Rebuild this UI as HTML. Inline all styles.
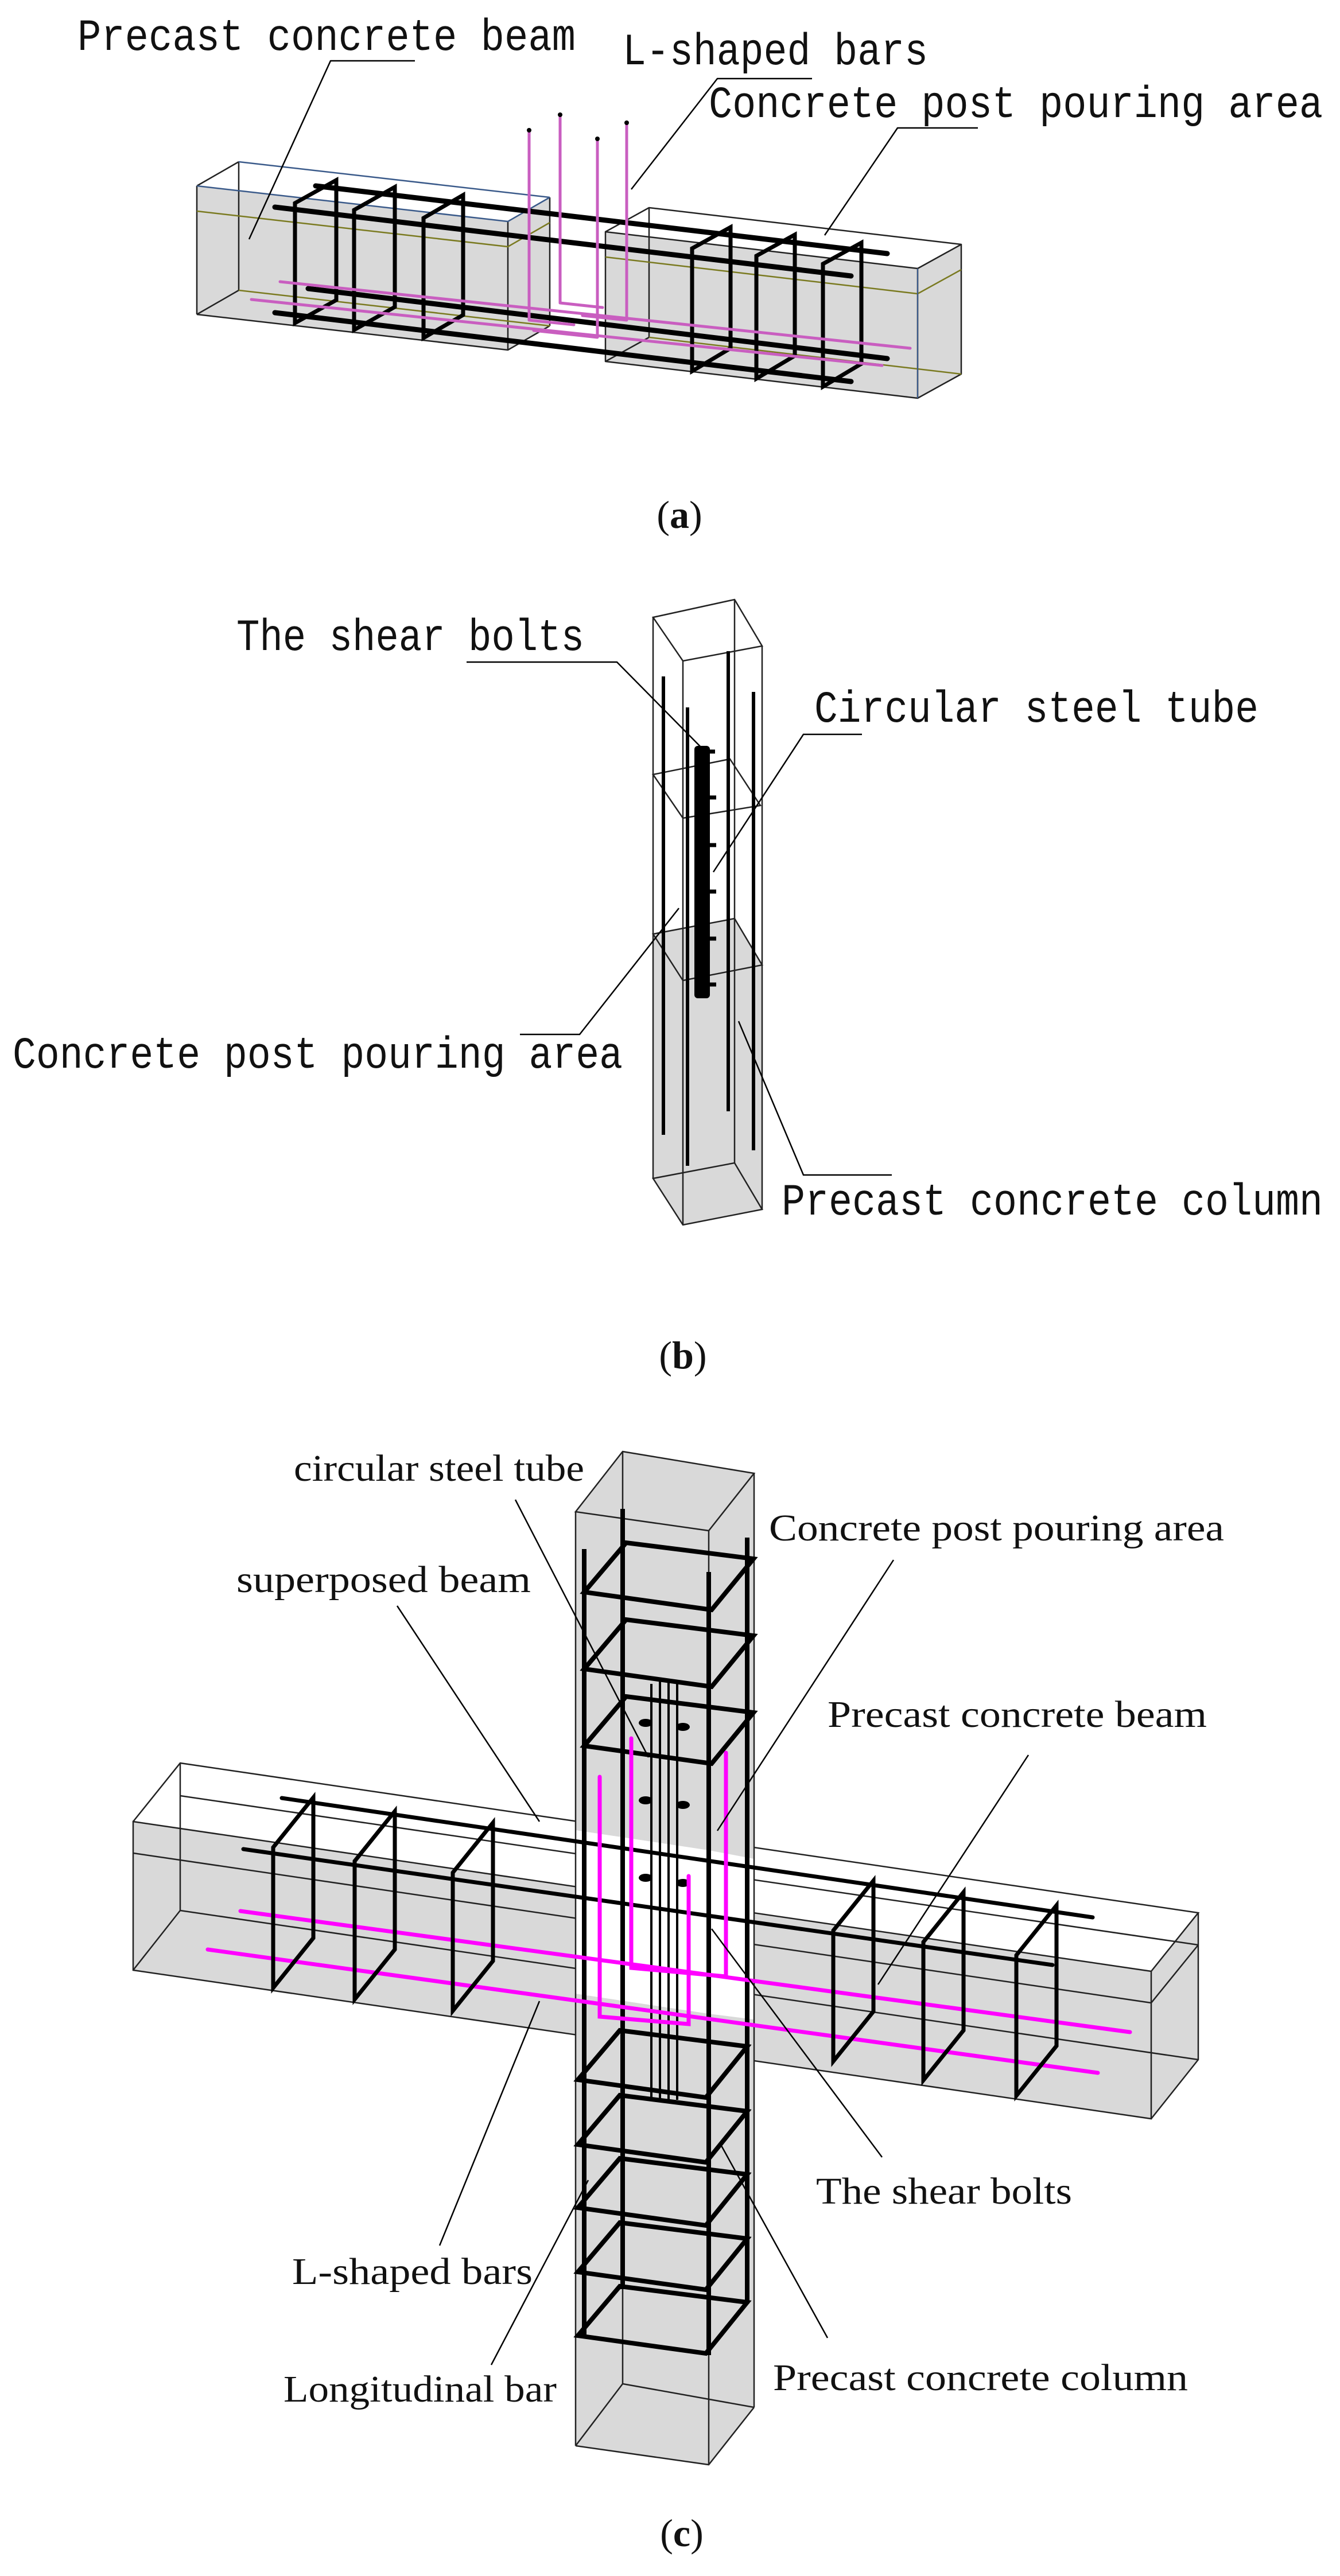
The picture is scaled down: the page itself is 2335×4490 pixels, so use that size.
<!DOCTYPE html>
<html><head><meta charset="utf-8"><style>
html,body{margin:0;padding:0;background:#fff}
svg{display:block}
.m{font-family:"Liberation Mono",monospace;fill:#111}
.s{font-family:"Liberation Serif",serif;fill:#111}
</style></head><body>
<svg width="2335" height="4490" viewBox="0 0 2335 4490" xmlns="http://www.w3.org/2000/svg">
<rect width="2335" height="4490" fill="#fff"/>

<!-- ============ PANEL A ============ -->
<g stroke-linejoin="round">
<polygon points="343,324 885,386 885,610 343,548" fill="#d9d9d9"/>
<polygon points="885,386 958,344 958,568 885,610" fill="#d9d9d9"/>
<polygon points="343,324 416,282 958,344 885,386" fill="#fff"/>
<g fill="none" stroke="#222" stroke-width="2.5">
<polyline points="343,548 885,610 958,568"/>
<line x1="343" y1="324" x2="343" y2="548"/>
<line x1="885" y1="386" x2="885" y2="610"/>
<line x1="958" y1="344" x2="958" y2="568"/>
<line x1="343" y1="548" x2="416" y2="506"/>
<line x1="416" y1="282" x2="416" y2="506"/>
<line x1="343" y1="324" x2="416" y2="282"/>
</g>
<polyline points="343,324 885,386 958,344" fill="none" stroke="#3a5a8a" stroke-width="2.5"/>
<line x1="416" y1="282" x2="958" y2="344" stroke="#3a5a8a" stroke-width="2.5"/>
<polyline points="343,368 885,430 958,388" fill="none" stroke="#7a7a20" stroke-width="2.5"/>
<line x1="416" y1="506" x2="958" y2="568" stroke="#7a7a20" stroke-width="2.5"/>
<polygon points="1055,404 1599,468 1599,694 1055,630" fill="#d9d9d9"/>
<polygon points="1599,468 1675,426 1675,652 1599,694" fill="#d9d9d9"/>
<polygon points="1055,404 1131,362 1675,426 1599,468" fill="#fff"/>
<g fill="none" stroke="#222" stroke-width="2.5">
<polygon points="1055,404 1599,468 1599,694 1055,630"/>
<polyline points="1055,404 1131,362 1675,426 1599,468"/>
<polyline points="1675,426 1675,652 1599,694"/>
<line x1="1131" y1="362" x2="1131" y2="588"/>
<line x1="1055" y1="630" x2="1131" y2="588"/>
</g>
<polyline points="1055,448 1599,512 1675,470" fill="none" stroke="#7a7a20" stroke-width="2.5"/>
<line x1="1131" y1="588" x2="1675" y2="652" stroke="#7a7a20" stroke-width="2.5"/>
<line x1="1599" y1="468" x2="1599" y2="694" stroke="#3a5a8a" stroke-width="2"/>
<g stroke="#000" stroke-width="9" stroke-linecap="round" fill="none">
<line x1="550" y1="324" x2="1546" y2="442"/>
<line x1="479" y1="361" x2="1483" y2="481"/>
<line x1="537" y1="503" x2="1546" y2="625"/>
<line x1="479" y1="545" x2="1483" y2="665"/>
</g>
<g stroke="#000" stroke-width="7" fill="none" stroke-linejoin="miter">
<polygon points="514,354 514,563 586,523 586,314"/>
<polygon points="617,366 617,575 688,535 688,326"/>
<polygon points="738,380 738,589 807,549 807,340"/>
<polygon points="1206,433 1206,647 1273,607 1273,396"/>
<polygon points="1318,446 1318,660 1385,620 1385,409"/>
<polygon points="1434,460 1434,674 1501,634 1501,423"/>
</g>
<g stroke="#c95ec0" stroke-width="5" fill="none" stroke-linecap="round">
<line x1="488" y1="491" x2="1586" y2="607"/>
<line x1="438" y1="522" x2="1537" y2="637"/>
<polyline points="922,227 922,558 1000,566"/>
<polyline points="976,200 976,528 1050,536"/>
<polyline points="1041,242 1041,588 930,576"/>
<polyline points="1092,214 1092,558 1015,550"/>
</g>
<g fill="#000"><circle cx="922" cy="227" r="4"/><circle cx="976" cy="200" r="4"/><circle cx="1041" cy="242" r="4"/><circle cx="1092" cy="214" r="4"/></g>
<g stroke="#000" stroke-width="2.5" fill="none">
<polyline points="723,106 576,106 434,417"/>
<polyline points="1415,137 1250,137 1100,330"/>
<polyline points="1704,223 1564,223 1437,410"/>
</g>
</g>
<text class="m" x="135" y="87" font-size="78" textLength="868" lengthAdjust="spacingAndGlyphs">Precast concrete beam</text>
<text class="m" x="1085" y="112" font-size="78" textLength="532" lengthAdjust="spacingAndGlyphs">L-shaped bars</text>
<text class="m" x="1235" y="204" font-size="78" textLength="1070" lengthAdjust="spacingAndGlyphs">Concrete post pouring area</text>
<text class="s" x="1184" y="920" font-size="68" text-anchor="middle">(<tspan font-weight="bold">a</tspan>)</text>

<!-- ============ PANEL B ============ -->
<polygon points="1138,1628 1280,1601 1328,1682 1328,2108 1190,2135 1138,2054" fill="#d9d9d9"/>
<g fill="none" stroke="#222" stroke-width="2.5">
<polygon points="1138,1076 1280,1045 1328,1126 1190,1152"/>
<polygon points="1138,2054 1280,2027 1328,2108 1190,2135"/>
<line x1="1138" y1="1076" x2="1138" y2="2054"/>
<line x1="1190" y1="1152" x2="1190" y2="2135"/>
<line x1="1280" y1="1045" x2="1280" y2="2027"/>
<line x1="1328" y1="1126" x2="1328" y2="2108"/>
<polygon points="1138,1350 1272,1323 1325,1404 1190,1426"/>
<polygon points="1138,1628 1280,1601 1328,1682 1190,1709"/>
</g>
<g stroke="#000" stroke-width="6">
<line x1="1156" y1="1179" x2="1156" y2="1978"/>
<line x1="1269" y1="1135" x2="1269" y2="1937"/>
<line x1="1313" y1="1206" x2="1313" y2="2005"/>
<line x1="1198" y1="1233" x2="1198" y2="2032"/>
</g>
<rect x="1210" y="1300" width="27" height="440" rx="6" fill="#000"/>
<g stroke="#000" stroke-width="7">
<line x1="1237" y1="1310" x2="1246" y2="1310"/><line x1="1237" y1="1390" x2="1248" y2="1390"/>
<line x1="1237" y1="1473" x2="1248" y2="1473"/><line x1="1237" y1="1554" x2="1248" y2="1554"/>
<line x1="1237" y1="1636" x2="1248" y2="1636"/><line x1="1237" y1="1716" x2="1248" y2="1716"/>
</g>
<g stroke="#000" stroke-width="2.5" fill="none">
<polyline points="813,1154 1075,1154 1228,1309"/>
<polyline points="1502,1280 1400,1280 1243,1520"/>
<polyline points="906,1803 1010,1803 1183,1583"/>
<polyline points="1554,2048 1400,2048 1287,1780"/>
</g>
<text class="m" x="412" y="1133" font-size="78" textLength="606" lengthAdjust="spacingAndGlyphs">The shear bolts</text>
<text class="m" x="1419" y="1258" font-size="78" textLength="774" lengthAdjust="spacingAndGlyphs">Circular steel tube</text>
<text class="m" x="22" y="1861" font-size="78" textLength="1063" lengthAdjust="spacingAndGlyphs">Concrete post pouring area</text>
<text class="m" x="1362" y="2117" font-size="78" textLength="943" lengthAdjust="spacingAndGlyphs">Precast concrete column</text>
<text class="s" x="1190" y="2385" font-size="68" text-anchor="middle">(<tspan font-weight="bold">b</tspan>)</text>

<!-- ============ PANEL C ============ -->
<polygon points="232,3175 2006,3436 2006,3693 232,3434" fill="#d9d9d9"/>
<polygon points="2006,3436 2088,3334 2088,3590 2006,3693" fill="#d9d9d9"/>
<polygon points="232,3175 314,3073 2088,3334 2006,3436" fill="#fff"/>
<g fill="none" stroke="#222" stroke-width="2.5">
<polygon points="232,3175 2006,3436 2006,3693 232,3434"/>
<polyline points="232,3175 314,3073 2088,3334 2006,3436"/>
<polyline points="2088,3334 2088,3590 2006,3693"/>
<line x1="314" y1="3073" x2="314" y2="3330"/>
<line x1="232" y1="3434" x2="314" y2="3330"/>
<line x1="314" y1="3330" x2="2088" y2="3590"/>
<polyline points="232,3230 2006,3491 2088,3390"/>
<line x1="314" y1="3130" x2="2088" y2="3390"/>
</g>
<polygon points="1003,2635 1085,2530 1314,2568 1314,4196 1235,4296 1003,4263" fill="#d9d9d9"/>
<polygon points="1003,3190 1235,3225 1235,3510 1003,3475" fill="#fff"/>
<polygon points="1235,3225 1314,3240 1314,3520 1235,3510" fill="#fff"/>
<g fill="none" stroke="#222" stroke-width="2.5">
<polygon points="1003,2635 1085,2530 1314,2568 1235,2668"/>
<polyline points="1003,4263 1235,4296 1314,4196"/>
<polyline points="1003,4263 1085,4155 1314,4196"/>
<line x1="1003" y1="2635" x2="1003" y2="4263"/>
<line x1="1235" y1="2668" x2="1235" y2="4296"/>
<line x1="1314" y1="2568" x2="1314" y2="4196"/>
<line x1="1085" y1="2530" x2="1085" y2="4155"/>
</g>
<g stroke="#000" stroke-width="8">
<line x1="1018" y1="2700" x2="1018" y2="4075"/>
<line x1="1085" y1="2630" x2="1085" y2="3990"/>
<line x1="1235" y1="2740" x2="1235" y2="4105"/>
<line x1="1302" y1="2680" x2="1302" y2="4015"/>
</g>
<g stroke="#000" stroke-width="4" fill="none">
<line x1="1135" y1="2935" x2="1135" y2="3660"/>
<line x1="1150" y1="2930" x2="1150" y2="3660"/>
<line x1="1165" y1="2930" x2="1165" y2="3660"/>
<line x1="1180" y1="2935" x2="1180" y2="3660"/>
</g>
<g fill="#000">
<ellipse cx="1125" cy="3003" rx="12" ry="7"/><ellipse cx="1190" cy="3010" rx="12" ry="7"/>
<ellipse cx="1125" cy="3138" rx="12" ry="7"/><ellipse cx="1190" cy="3146" rx="12" ry="7"/>
<ellipse cx="1125" cy="3273" rx="12" ry="7"/><ellipse cx="1190" cy="3282" rx="12" ry="7"/>
</g>
<g stroke="#000" stroke-width="8" fill="none" stroke-linejoin="miter">
<polygon points="1018,2775 1091,2689 1313,2717 1240,2806"/>
<polygon points="1018,2909 1091,2823 1313,2851 1240,2940"/>
<polygon points="1018,3043 1091,2957 1313,2985 1240,3074"/>
<polygon points="1007,3625 1080,3539 1302,3567 1230,3656"/>
<polygon points="1007,3738 1080,3652 1302,3680 1230,3769"/>
<polygon points="1007,3848 1080,3762 1302,3790 1230,3879"/>
<polygon points="1007,3960 1080,3874 1302,3902 1230,3991"/>
<polygon points="1007,4071 1080,3985 1302,4013 1230,4102"/>
</g>
<g stroke="#000" stroke-width="7" stroke-linecap="round">
<line x1="491" y1="3134" x2="1904" y2="3342"/>
<line x1="424" y1="3223" x2="1834" y2="3425"/>
</g>
<g stroke="#ff00ff" stroke-width="7" stroke-linecap="round" fill="none">
<line x1="419" y1="3331" x2="1969" y2="3542"/>
<line x1="362" y1="3398" x2="1913" y2="3613"/>
<polyline points="1045,3097 1045,3515 1200,3528 1200,3270"/>
<polyline points="1100,3030 1100,3430 1265,3445 1265,3055"/>
</g>
<g stroke="#000" stroke-width="7" fill="none" stroke-linejoin="miter">
<polygon points="476,3220 476,3465 546,3378 546,3133"/>
<polygon points="618,3244 618,3485 688,3398 688,3157"/>
<polygon points="789,3264 789,3505 859,3418 859,3177"/>
<polygon points="1452,3365 1452,3593 1522,3506 1522,3278"/>
<polygon points="1609,3385 1609,3626 1679,3539 1679,3298"/>
<polygon points="1771,3408 1771,3653 1841,3566 1841,3321"/>
</g>
<g stroke="#000" stroke-width="2.5" fill="none">
<line x1="898" y1="2614" x2="1130" y2="3063"/>
<line x1="1557" y1="2719" x2="1250" y2="3191"/>
<line x1="692" y1="2799" x2="940" y2="3175"/>
<line x1="1792" y1="3059" x2="1530" y2="3459"/>
<line x1="1537" y1="3760" x2="1240" y2="3362"/>
<line x1="766" y1="3914" x2="940" y2="3488"/>
<line x1="1442" y1="4075" x2="1257" y2="3740"/>
<line x1="856" y1="4122" x2="1025" y2="3800"/>
</g>
<g class="s" font-size="66">
<text x="512" y="2581" textLength="506" lengthAdjust="spacingAndGlyphs">circular steel tube</text>
<text x="1340" y="2685" textLength="793" lengthAdjust="spacingAndGlyphs">Concrete post pouring area</text>
<text x="412" y="2775" textLength="513" lengthAdjust="spacingAndGlyphs">superposed beam</text>
<text x="1442" y="3010" textLength="661" lengthAdjust="spacingAndGlyphs">Precast concrete beam</text>
<text x="1422" y="3841" textLength="446" lengthAdjust="spacingAndGlyphs">The shear bolts</text>
<text x="509" y="3981" textLength="419" lengthAdjust="spacingAndGlyphs">L-shaped bars</text>
<text x="1347" y="4166" textLength="723" lengthAdjust="spacingAndGlyphs">Precast concrete column</text>
<text x="494" y="4186" textLength="476" lengthAdjust="spacingAndGlyphs">Longitudinal bar</text>
</g>
<text class="s" x="1188" y="4438" font-size="68" text-anchor="middle">(<tspan font-weight="bold">c</tspan>)</text>
</svg>
</body></html>
